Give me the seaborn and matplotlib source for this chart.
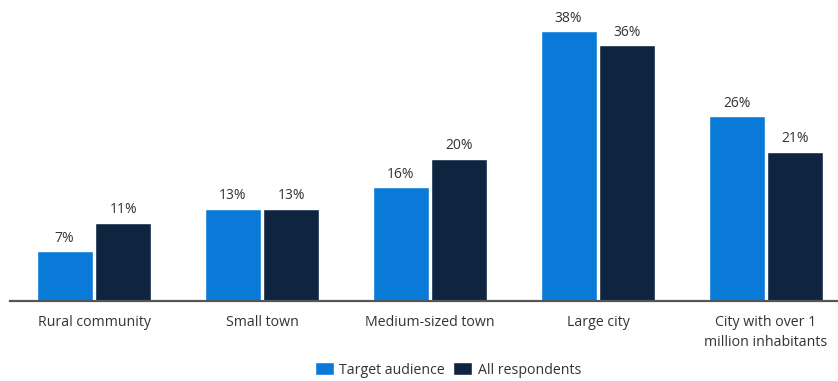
import matplotlib
matplotlib.use("Agg")
import matplotlib.pyplot as plt
import seaborn as sns
import pandas as pd

categories = ["Rural community", "Small town", "Medium-sized town", "Large city",
              "City with over 1\nmillion inhabitants"]
target_audience = [7, 13, 16, 38, 26]
all_respondents = [11, 13, 20, 36, 21]
series_names = ["Target audience", "All respondents"]

df = pd.DataFrame({
    "category": categories * 2,
    "value": target_audience + all_respondents,
    "series": [series_names[0]] * len(categories) + [series_names[1]] * len(categories),
})

sns.set_theme(style="white")
plt.rcParams["font.family"] = ["Open Sans", "DejaVu Sans"]

fig = plt.figure(figsize=(8.38, 3.81), dpi=100)
ax = fig.add_axes([10 / 838, 80 / 381, 828 / 838, 284 / 381])

palette = {"Target audience": "#0a7ad8", "All respondents": "#0f2440"}
sns.barplot(data=df, x="category", y="value", hue="series", palette=palette,
            width=0.7, gap=0.05, ax=ax, saturation=1, legend=True)

for cont in ax.containers:
    ax.bar_label(cont, labels=[f"{v:.0f}%" for v in cont.datavalues],
                 padding=4, fontsize=10, color="#333333")

ax.set_ylim(0, 40)
ax.set_xlim(-0.5, -0.5 + 828 / 168)
ax.set_xlabel("")
ax.set_ylabel("")
ax.set_yticks([])
for s in ["top", "right", "left"]:
    ax.spines[s].set_visible(False)
ax.spines["bottom"].set_color("#555555")
ax.spines["bottom"].set_linewidth(1.6)
ax.tick_params(axis="x", length=0, pad=10, labelsize=10.2, labelcolor="#333333")
for lbl in ax.get_xticklabels():
    lbl.set_linespacing(1.45)

handles, labels = ax.get_legend_handles_labels()
ax.legend_.remove()
fig.legend(handles, labels, loc="center", bbox_to_anchor=(448 / 838, 1 - 370 / 381),
           ncol=2, frameon=False, fontsize=10.2, handlelength=1.3, handleheight=1.0,
           handletextpad=0.4, columnspacing=0.6, labelcolor="#333333")

fig.savefig("out.png", dpi=100)
